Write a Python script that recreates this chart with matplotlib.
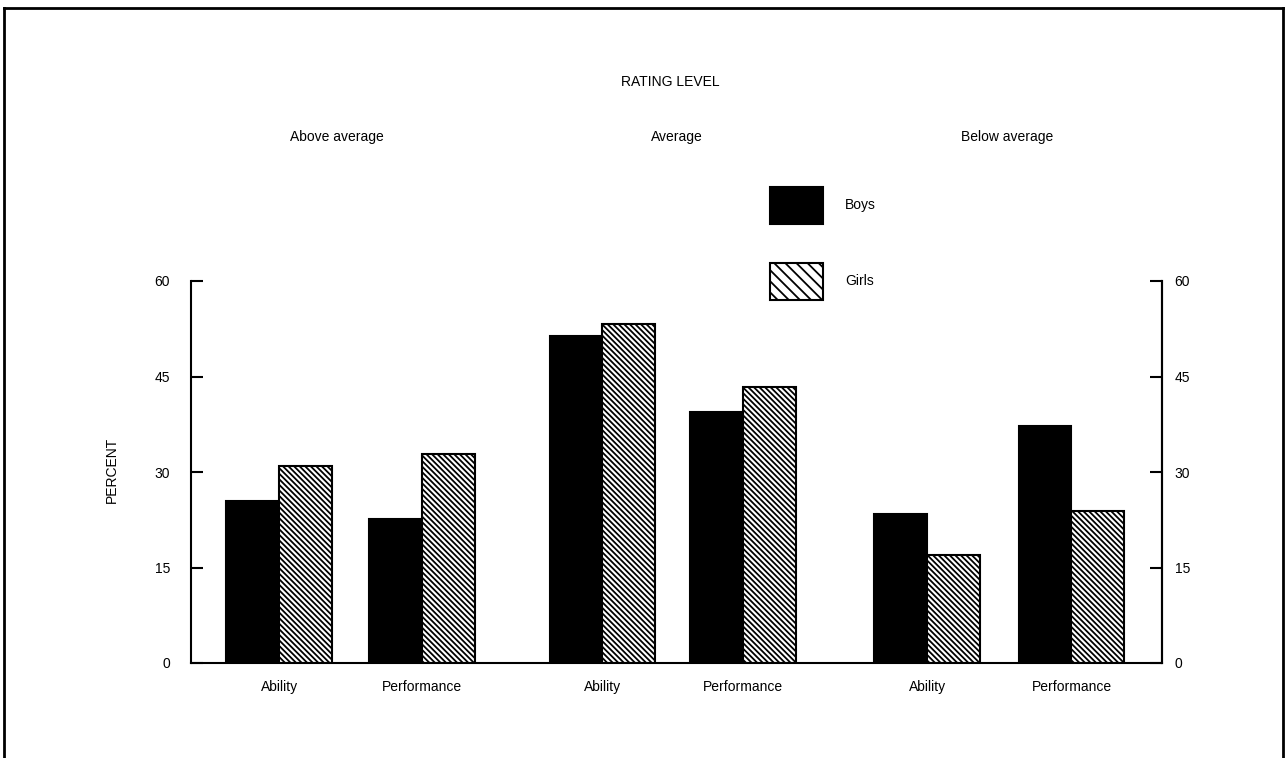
import matplotlib
matplotlib.use("Agg")
import matplotlib.pyplot as plt
from matplotlib.patches import Patch
from matplotlib.lines import Line2D

plt.rcParams['font.family'] = ['Liberation Sans', 'DejaVu Sans']
plt.rcParams['hatch.linewidth'] = 1.3

# ---- data ----
categories = ["Ability", "Performance", "Ability", "Performance", "Ability", "Performance"]
groups = ["Above average", "Average", "Below average"]
boys = [25.5, 22.6, 51.4, 39.5, 23.4, 37.2]
girls = [31.0, 32.9, 53.2, 43.3, 17.0, 23.8]
yticks = [0, 15, 30, 45, 60]
series_names = ["Boys", "Girls"]

# ---- layout ----
W, H = 1287, 758
fig = plt.figure(figsize=(W / 100, H / 100), dpi=100)
ax_left, ax_right, ax_bottom, ax_top = 191, 1162, 663, 281
ax = fig.add_axes([ax_left / W, 1 - ax_bottom / H,
                   (ax_right - ax_left) / W, (ax_bottom - ax_top) / H])

positions = [0, 1, 2.26, 3.245, 4.53, 5.54]
bw = 0.37
ax.bar([p - bw / 2 for p in positions], boys, width=bw, color='black',
       edgecolor='black', linewidth=1.5)
ax.bar([p + bw / 2 for p in positions], girls, width=bw, color='white',
       edgecolor='black', linewidth=1.5, hatch='\\\\\\\\\\\\')

ax.set_xlim(-0.617, 6.173)
ax.set_ylim(0, 60)
ax.set_xticks(positions)
ax.set_xticklabels(categories, fontsize=10)
ax.tick_params(axis='x', length=0, pad=12)
ax.set_yticks(yticks)
ax.set_yticklabels([str(v) for v in yticks], fontsize=10)
ax.tick_params(axis='y', direction='in', length=8.5, width=1.5, pad=15)
for s in ['left', 'right', 'bottom']:
    ax.spines[s].set_linewidth(1.5)
ax.spines['top'].set_visible(False)

ax2 = ax.twinx()
ax2.set_ylim(0, 60)
ax2.set_yticks(yticks)
ax2.set_yticklabels([str(v) for v in yticks], fontsize=10)
ax2.tick_params(axis='y', direction='in', length=8.5, width=1.5, pad=9)
for s in ['top', 'left', 'bottom']:
    ax2.spines[s].set_visible(False)
ax2.spines['right'].set_linewidth(1.5)

# ---- texts ----
fig.text(670 / W, 1 - 82 / H, "RATING LEVEL", ha='center', va='center', fontsize=10)
for gx, g in zip([337, 677, 1007], groups):
    fig.text(gx / W, 1 - 137 / H, g, ha='center', va='center', fontsize=10)
fig.text(112 / W, 1 - 470 / H, "PERCENT", ha='center', va='center',
         rotation=90, fontsize=10)

# ---- legend ----
handles = [Patch(facecolor='black', edgecolor='black', linewidth=1.5),
           Patch(facecolor='white', edgecolor='black', linewidth=1.5, hatch='\\\\\\')]
fs = 10 * 100 / 72
fig.legend(handles, series_names, loc='upper left',
           bbox_to_anchor=(770 / W, 1 - 187 / H), frameon=False, fontsize=10,
           borderpad=0, borderaxespad=0, handlelength=53 / fs,
           handleheight=38 / 28 * 38 / fs, labelspacing=39 / fs, handletextpad=22 / fs)

# ---- border ----
bl, br, bt = 4, 1283, 8
fig.add_artist(Line2D([bl / W, br / W], [1 - bt / H, 1 - bt / H], color='black', lw=2,
                      transform=fig.transFigure))
fig.add_artist(Line2D([bl / W, bl / W], [1 - bt / H, 0], color='black', lw=2,
                      transform=fig.transFigure))
fig.add_artist(Line2D([br / W, br / W], [1 - bt / H, 0], color='black', lw=2,
                      transform=fig.transFigure))

fig.savefig("out.png", dpi=100)
